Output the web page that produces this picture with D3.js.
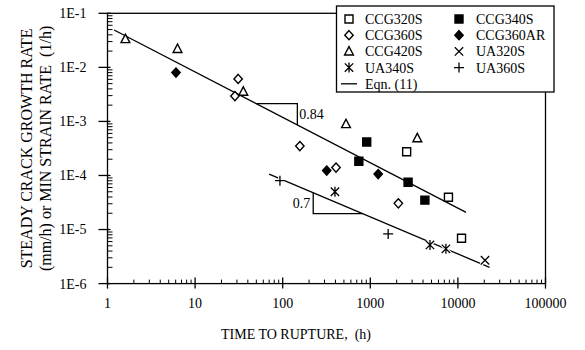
<!DOCTYPE html>
<html>
<head>
<meta charset="utf-8">
<script src="https://cdn.jsdelivr.net/npm/d3@7"></script>
<style>
  html, body { margin: 0; padding: 0; background: #fff; }
  svg text { font-family: "Liberation Serif", "Times New Roman", serif; fill: #000; }
</style>
</head>
<body>
<svg id="chart" width="585" height="350"></svg>
<script>
// Time to rupture (h) and rate for each test series
const ccg320sTime = [2600, 7800, 11000];
const ccg320sRate = [2.75e-4, 3.95e-5, 6.9e-6];
const ccg340sTime = [910, 740, 2700, 4200];
const ccg340sRate = [4.15e-4, 1.83e-4, 7.5e-5, 3.5e-5];
const ccg360sTime = [31, 28.5, 157, 406, 2090];
const ccg360sRate = [6.1e-3, 2.95e-3, 3.5e-4, 1.4e-4, 3.05e-5];
const ccg360arTime = [6.05, 318, 1230];
const ccg360arRate = [8.0e-3, 1.23e-4, 1.06e-4];
const ccg420sTime = [1.6, 6.3, 35.5, 528, 3440];
const ccg420sRate = [3.35e-2, 2.2e-2, 3.55e-3, 8.95e-4, 4.9e-4];
const ua320sTime = [20400];
const ua320sRate = [2.7e-6];
const ua340sTime = [395, 4800, 7300];
const ua340sRate = [5.0e-5, 5.2e-6, 4.4e-6];
const ua360sTime = [93, 1600];
const ua360sRate = [8.0e-5, 8.3e-6];

// Fitted lines (end points) and slope triangles (time span along each line)
const eqn11Time = [1.19, 12400];
const eqn11Rate = [0.0491, 2.08e-5];
const uaFitTime = [70, 23000];
const uaFitRate = [1.06e-4, 2.0e-6];
const eqn11SlopeTime = [50, 147];
const uaFitSlopeTime = [223, 820];
const slopeLabels = ["0.84", "0.7"];

// Axis ticks
const xTickValues = [1, 10, 100, 1000, 10000, 100000];
const xTickLabels = ["1", "10", "100", "1000", "10000", "100000"];
const yTickValues = [1e-1, 1e-2, 1e-3, 1e-4, 1e-5, 1e-6];
const yTickLabels = ["1E-1", "1E-2", "1E-3", "1E-4", "1E-5", "1E-6"];

const series = [
  { name: "CCG320S", t: ccg320sTime, r: ccg320sRate, sym: "square", fill: false },
  { name: "CCG340S", t: ccg340sTime, r: ccg340sRate, sym: "square", fill: true },
  { name: "CCG360S", t: ccg360sTime, r: ccg360sRate, sym: "diamond", fill: false },
  { name: "CCG360AR", t: ccg360arTime, r: ccg360arRate, sym: "diamond", fill: true },
  { name: "CCG420S", t: ccg420sTime, r: ccg420sRate, sym: "triangle", fill: false },
  { name: "UA320S", t: ua320sTime, r: ua320sRate, sym: "cross", fill: false },
  { name: "UA340S", t: ua340sTime, r: ua340sRate, sym: "asterisk", fill: false },
  { name: "UA360S", t: ua360sTime, r: ua360sRate, sym: "plus", fill: false }
];

const svg = d3.select("#chart");
const plotLeft = 107.5, plotRight = 545.5, plotTop = 13.3, plotBottom = 283.6;

const x = d3.scaleLog().domain([1, 100000]).range([plotLeft, plotRight]);
const y = d3.scaleLog().domain([1e-6, 1e-1]).range([plotBottom, plotTop]);

// Minor ticks 2..9 within each decade
function minors(decades) {
  const out = [];
  for (let i = 0; i < decades.length - 1; i++) {
    for (let k = 2; k <= 9; k++) out.push(decades[i] * k);
  }
  return out;
}
const xMinor = minors(xTickValues);
const yMinor = minors(yTickValues.slice().reverse());

const g = svg.append("g");

// Frame
g.append("rect")
  .attr("x", plotLeft).attr("y", plotTop)
  .attr("width", plotRight - plotLeft).attr("height", plotBottom - plotTop)
  .attr("fill", "none").attr("stroke", "#000").attr("stroke-width", 1.3);

// X axis
const xAxis = g.append("g").attr("transform", `translate(0,${plotBottom})`);
xAxis.selectAll("line.minor").data(xMinor).join("line")
  .attr("x1", d => x(d)).attr("x2", d => x(d))
  .attr("y1", 0).attr("y2", -4)
  .attr("stroke", "#000").attr("stroke-width", 1);
xAxis.selectAll("line.major").data(xTickValues).join("line")
  .attr("x1", d => x(d)).attr("x2", d => x(d))
  .attr("y1", 5).attr("y2", -6)
  .attr("stroke", "#000").attr("stroke-width", 1.3);
xAxis.selectAll("text").data(xTickValues).join("text")
  .attr("x", d => x(d)).attr("y", 24)
  .attr("text-anchor", "middle").attr("font-size", 14)
  .text((d, i) => xTickLabels[i]);

// Y axis
const yAxis = g.append("g").attr("transform", `translate(${plotLeft},0)`);
yAxis.selectAll("line.minor").data(yMinor).join("line")
  .attr("y1", d => y(d)).attr("y2", d => y(d))
  .attr("x1", 0).attr("x2", 5)
  .attr("stroke", "#000").attr("stroke-width", 1);
yAxis.selectAll("line.major").data(yTickValues).join("line")
  .attr("y1", d => y(d)).attr("y2", d => y(d))
  .attr("x1", -9).attr("x2", 3)
  .attr("stroke", "#000").attr("stroke-width", 1.3);
yAxis.selectAll("text").data(yTickValues).join("text")
  .attr("x", -21).attr("y", d => y(d)).attr("dy", "0.35em")
  .attr("text-anchor", "end").attr("font-size", 14)
  .text((d, i) => yTickLabels[i]);

// Axis titles
svg.append("text")
  .attr("x", 296).attr("y", 339)
  .attr("text-anchor", "middle").attr("font-size", 14)
  .attr("xml:space", "preserve")
  .text("TIME TO RUPTURE,  (h)");
const yTitle = svg.append("text")
  .attr("transform", `translate(0,${(plotTop + plotBottom) / 2}) rotate(-90)`)
  .attr("text-anchor", "middle").attr("font-size", 16)
  .attr("xml:space", "preserve");
yTitle.append("tspan").attr("x", 0).attr("y", 32).text("STEADY CRACK GROWTH RATE");
yTitle.append("tspan").attr("x", 0).attr("y", 51).text("(mm/h) or MIN STRAIN RATE  (1/h)");

// Fit lines
const lineGen = d3.line().x(d => x(d[0])).y(d => y(d[1]));
function fitAt(tArr, rArr, t) {
  const lt = Math.log10(t);
  const a = Math.log10(tArr[0]), b = Math.log10(tArr[1]);
  const ra = Math.log10(rArr[0]), rb = Math.log10(rArr[1]);
  return Math.pow(10, ra + (rb - ra) * (lt - a) / (b - a));
}
const fits = g.append("g").attr("fill", "none").attr("stroke", "#000").attr("stroke-width", 1.3);
fits.append("path").attr("d", lineGen(d3.zip(eqn11Time, eqn11Rate)));
fits.append("path").attr("d", lineGen(d3.zip(uaFitTime, uaFitRate)));

// Slope triangle on the Eqn. (11) line: horizontal then down to the line
{
  const [t0, t1] = eqn11SlopeTime;
  const r0 = fitAt(eqn11Time, eqn11Rate, t0), r1 = fitAt(eqn11Time, eqn11Rate, t1);
  fits.append("path").attr("d", lineGen([[t0, r0], [t1, r0], [t1, r1]]));
  svg.append("text").attr("x", x(t1) + 2).attr("y", (y(r0) + y(r1)) / 2).attr("dy", "0.35em")
    .attr("font-size", 14).text(slopeLabels[0]);
}
// Slope triangle on the UA line: down from the line then across
{
  const [t0, t1] = uaFitSlopeTime;
  const r0 = fitAt(uaFitTime, uaFitRate, t0), r1 = fitAt(uaFitTime, uaFitRate, t1);
  fits.append("path").attr("d", lineGen([[t0, r0], [t0, r1], [t1, r1]]));
  svg.append("text").attr("x", x(t0) - 3).attr("y", (y(r0) + y(r1)) / 2).attr("dy", "0.35em")
    .attr("text-anchor", "end").attr("font-size", 14).text(slopeLabels[1]);
}

// Marker shapes
function symbolPath(sym) {
  switch (sym) {
    case "square": return "M-4,-4H4V4H-4Z";
    case "diamond": return "M0,-4.6L4.2,0L0,4.6L-4.2,0Z";
    case "triangle": return "M0,-4.8L4.4,3.6H-4.4Z";
    case "cross": return "M-4.2,-4.2L4.2,4.2M-4.2,4.2L4.2,-4.2";
    case "plus": return "M-5,0H5M0,-5V5";
    case "asterisk": return "M-4.2,-4.2L4.2,4.2M-4.2,4.2L4.2,-4.2M0,-5V5";
  }
}
const isLineSym = s => s === "cross" || s === "plus" || s === "asterisk";

function drawMarker(sel, s) {
  if (isLineSym(s.sym)) {
    sel.append("path").attr("d", symbolPath(s.sym))
      .attr("fill", "none").attr("stroke", "#fff").attr("stroke-width", 3.5);
    sel.append("path").attr("d", symbolPath(s.sym))
      .attr("fill", "none").attr("stroke", "#000").attr("stroke-width", 1.3);
  } else {
    sel.append("path").attr("d", symbolPath(s.sym))
      .attr("fill", s.fill ? "#000" : "#fff")
      .attr("stroke", "#000").attr("stroke-width", 1.4);
  }
}

const pts = g.append("g");
series.forEach(s => {
  d3.zip(s.t, s.r).forEach(([t, r]) => {
    const m = pts.append("g").attr("transform", `translate(${x(t)},${y(r)})`);
    drawMarker(m, s);
  });
});

// Legend
const legend = svg.append("g");
legend.append("rect")
  .attr("x", 336.5).attr("y", 6).attr("width", 217.5).attr("height", 86)
  .attr("fill", "#fff").attr("stroke", "#000").attr("stroke-width", 1.3);
const legendOrder = ["CCG320S", "CCG340S", "CCG360S", "CCG360AR", "CCG420S", "UA320S", "UA340S", "UA360S"];
legendOrder.forEach((name, i) => {
  const s = series.find(d => d.name === name);
  const col = i % 2, row = Math.floor(i / 2);
  const cy = 19 + row * 16.2;
  const sx = col === 0 ? 349 : 459;
  const tx = col === 0 ? 365 : 476;
  const m = legend.append("g").attr("transform", `translate(${sx},${cy})`);
  drawMarker(m, s);
  legend.append("text").attr("x", tx).attr("y", cy).attr("dy", "0.35em")
    .attr("font-size", 14).text(name);
});
{
  const cy = 19 + 4 * 16.2;
  legend.append("line").attr("x1", 341).attr("x2", 357).attr("y1", cy).attr("y2", cy)
    .attr("stroke", "#000").attr("stroke-width", 1.3);
  legend.append("text").attr("x", 365).attr("y", cy).attr("dy", "0.35em")
    .attr("font-size", 14).text("Eqn. (11)");
}
</script>
</body>
</html>
